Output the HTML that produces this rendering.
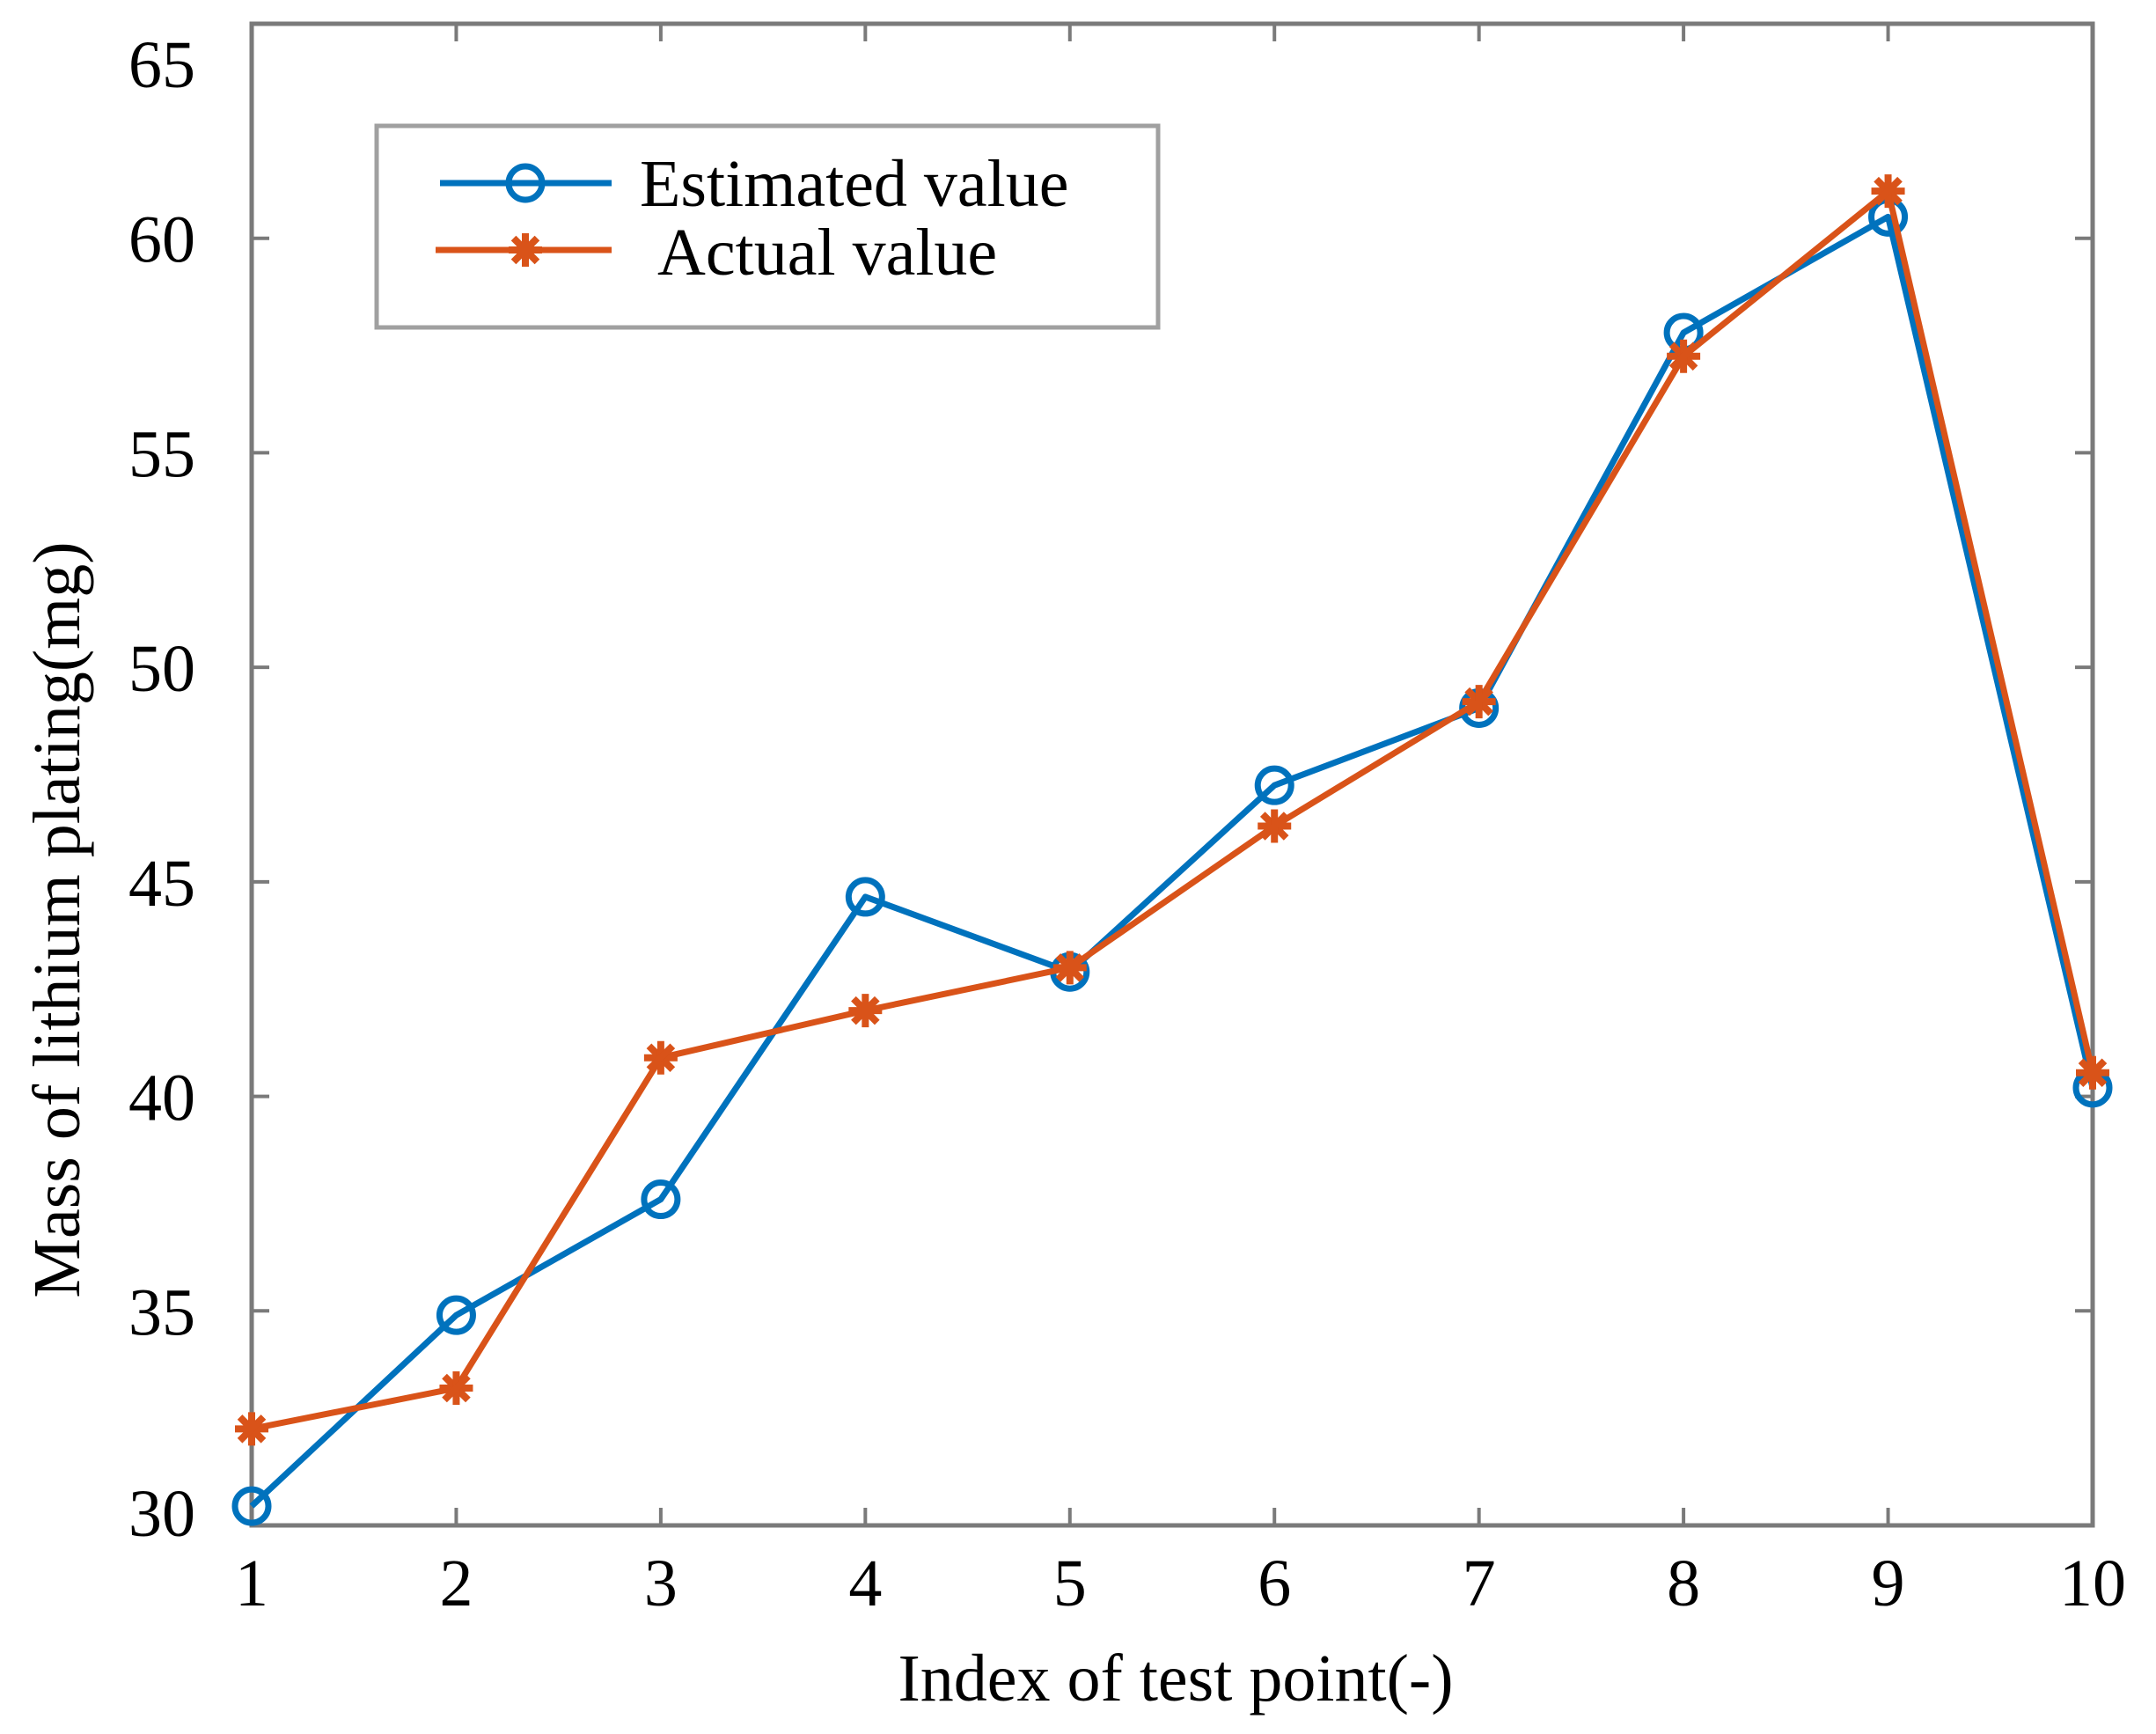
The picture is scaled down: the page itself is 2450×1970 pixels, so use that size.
<!DOCTYPE html>
<html><head><meta charset="utf-8"><style>
html,body{margin:0;padding:0;background:#fff;}
svg{display:block;font-family:"Liberation Serif",serif;}
</style></head><body>
<svg id="chart" width="2450" height="1970" viewBox="0 0 2450 1970" xmlns="http://www.w3.org/2000/svg">
<g id="grid"></g>
<g id="series"></g>
<g id="legend">
  <rect x="428" y="143" width="888" height="229" fill="#fff" stroke="#a0a0a0" stroke-width="5"/>
  <g>
    <line x1="500" y1="208" x2="695" y2="208" stroke="#0072BD" stroke-width="7"/>
    <circle cx="597" cy="208" r="19" fill="none" stroke="#0072BD" stroke-width="7"/>
    <text x="727" y="234" font-size="76" fill="#000">Estimated value</text>
  </g>
  <g>
    <line x1="495" y1="284" x2="695" y2="284" stroke="#D95319" stroke-width="7"/>
    <g id="legstar"></g>
    <text x="747" y="312" font-size="76" fill="#000">Actual value</text>
  </g>
</g>
<text x="1336" y="1932" font-size="76" text-anchor="middle">Index of test point(-)</text>
<text transform="translate(90,1045) rotate(-90)" font-size="76" text-anchor="middle">Mass of lithium plating(mg)</text>
</svg>
<script>
const categories = [1,2,3,4,5,6,7,8,9,10];
const estimatedValues = [30.45,34.9,37.6,44.65,42.9,47.25,49.05,57.8,60.5,40.2];
const actualValues = [32.25,33.2,40.9,42.0,43.0,46.3,49.2,57.25,61.1,40.55];
const xTickLabels = ["1","2","3","4","5","6","7","8","9","10"];
const yTickLabels = [30,35,40,45,50,55,60,65];

const L=286,R=2378,T=27,B=1733;
const xMin=1,xMax=10,yMin=30,yMax=65;
const NS="http://www.w3.org/2000/svg";
function xs(v){return L+(v-xMin)/(xMax-xMin)*(R-L);}
function ys(v){return B-(v-yMin)/(yMax-yMin)*(B-T);}
function mk(tag,attrs,parent){const e=document.createElementNS(NS,tag);for(const k in attrs)e.setAttribute(k,attrs[k]);parent.appendChild(e);return e;}
const grid=document.getElementById('grid');
const series=document.getElementById('series');
const ax=mk('rect',{x:L,y:T,width:R-L,height:B-T,fill:'none',stroke:'#7a7a7a','stroke-width':5},grid);


xTickLabels.forEach((lab,i)=>{
  const x=xs(categories[i]);
  const t1=mk('line',{x1:x,y1:B,x2:x,y2:B-20,stroke:'#7a7a7a','stroke-width':4},grid);
  
  
  mk('line',{x1:x,y1:T,x2:x,y2:T+20,stroke:'#7a7a7a','stroke-width':4},grid);
  const tx=mk('text',{x:x,y:1824,'font-size':76,'text-anchor':'middle'},grid);
  tx.textContent=lab;
  
  
});
yTickLabels.forEach(v=>{
  const y=ys(v);
  const t1=mk('line',{x1:L,y1:y,x2:L+20,y2:y,stroke:'#7a7a7a','stroke-width':4},grid);
  
  
  mk('line',{x1:R,y1:y,x2:R-20,y2:y,stroke:'#7a7a7a','stroke-width':4},grid);
  const tx=mk('text',{x:222,y:y+(v===30?12:(v===65?72:27)),'font-size':76,'text-anchor':'end'},grid);
  tx.textContent=String(v);
  
  
});
function star(cx,cy,parent,col){
  const g=mk('g',{},parent);
  for(let a=0;a<4;a++){
    const ang=a*Math.PI/4, r=19;
    mk('line',{x1:cx-r*Math.cos(ang),y1:cy-r*Math.sin(ang),x2:cx+r*Math.cos(ang),y2:cy+r*Math.sin(ang),stroke:col,'stroke-width':8},g);
  }
  return g;
}
function draw(vals,col,name,marker){
  const pts=vals.map((v,i)=>xs(categories[i])+','+ys(v)).join(' ');
  const pl=mk('polyline',{points:pts,fill:'none',stroke:col,'stroke-width':7,'stroke-linejoin':'round'},series);
  
  
  vals.forEach((v,i)=>{
    let m;
    if(marker==='circle') m=mk('circle',{cx:xs(categories[i]),cy:ys(v),r:19,fill:'none',stroke:col,'stroke-width':7},series);
    else m=star(xs(categories[i]),ys(v),series,col);
    
    
  });
}
draw(estimatedValues,'#0072BD','estimated','circle');
draw(actualValues,'#D95319','actual','star');
star(597,284,document.getElementById('legstar'),'#D95319');
</script>
</body></html>
